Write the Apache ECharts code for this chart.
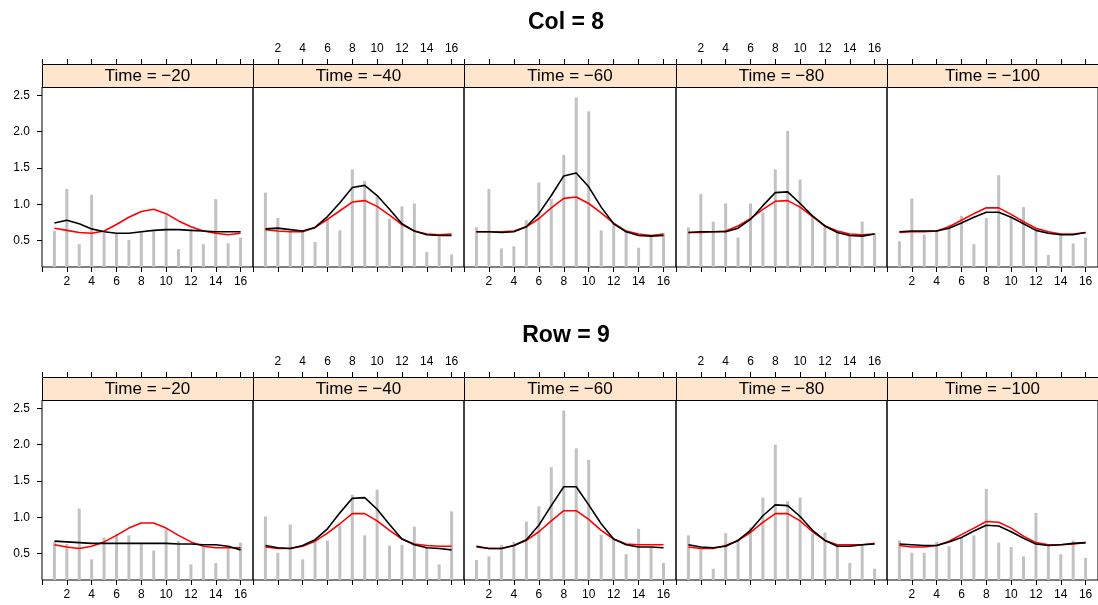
<!DOCTYPE html>
<html>
<head>
<meta charset="utf-8">
<script src="https://cdn.jsdelivr.net/npm/echarts@6/dist/echarts.min.js"></script>
<style>html,body{margin:0;padding:0;background:#fff;}#c{width:1098px;height:605px;}</style>
</head>
<body>
<div id="c"></div>
<script>
// ---- data ----
const positions = [1,2,3,4,5,6,7,8,9,10,11,12,13,14,15,16];
const xTickLabels = [2,4,6,8,10,12,14,16];
const xTickMarks = [0,2,4,6,8,10,12,14,16];
const yTickLabels = [0.5,1.0,1.5,2.0,2.5];
const timeLabels = ['Time = \u221220','Time = \u221240','Time = \u221260','Time = \u221280','Time = \u2212100'];
const groupTitles = ['Col = 8','Row = 9'];

const col8Bars = [
  [0.63,1.21,0.45,1.13,0.60,0.60,0.51,0.62,0.63,0.86,0.38,0.65,0.45,1.07,0.46,0.54],
  [1.16,0.81,0.62,0.62,0.48,0.80,0.64,1.48,1.32,1.10,0.80,0.97,1.01,0.34,0.55,0.31],
  [0.68,1.21,0.39,0.42,0.78,1.30,1.07,1.68,2.47,2.28,0.64,0.74,0.63,0.40,0.56,0.60],
  [0.68,1.14,0.76,1.01,0.54,1.01,0.89,1.48,2.01,1.34,0.83,0.69,0.62,0.57,0.76,0.60],
  [0.49,1.08,0.58,0.63,0.72,0.84,0.45,0.81,1.40,0.83,0.96,0.67,0.30,0.57,0.46,0.54]
];
const col8Red = [
  [0.67,0.64,0.61,0.60,0.63,0.72,0.82,0.90,0.93,0.87,0.77,0.69,0.63,0.60,0.58,0.60],
  [0.65,0.63,0.62,0.62,0.68,0.79,0.91,1.03,1.05,0.97,0.85,0.72,0.63,0.59,0.58,0.59],
  [0.62,0.62,0.62,0.63,0.69,0.80,0.95,1.08,1.10,1.01,0.88,0.74,0.63,0.59,0.57,0.59],
  [0.61,0.61,0.62,0.63,0.70,0.80,0.93,1.04,1.05,0.96,0.83,0.70,0.63,0.59,0.58,0.59],
  [0.61,0.62,0.62,0.63,0.69,0.78,0.87,0.95,0.95,0.86,0.76,0.67,0.62,0.59,0.59,0.61]
];
const col8Black = [
  [0.74,0.78,0.73,0.66,0.62,0.60,0.60,0.62,0.64,0.65,0.65,0.64,0.63,0.62,0.62,0.62],
  [0.66,0.67,0.65,0.63,0.68,0.83,1.02,1.23,1.26,1.12,0.93,0.73,0.63,0.58,0.57,0.57],
  [0.62,0.62,0.61,0.62,0.69,0.87,1.12,1.39,1.43,1.24,0.96,0.73,0.62,0.57,0.56,0.57],
  [0.61,0.62,0.62,0.62,0.67,0.79,0.98,1.16,1.17,1.01,0.84,0.70,0.61,0.57,0.56,0.59],
  [0.62,0.63,0.63,0.63,0.67,0.74,0.82,0.89,0.89,0.82,0.73,0.64,0.60,0.58,0.58,0.61]
];
const row9Bars = [
  [0.66,0.63,1.12,0.42,0.72,0.77,0.75,0.63,0.54,0.84,0.67,0.35,0.59,0.37,0.57,0.65],
  [1.01,0.51,0.90,0.42,0.68,0.68,0.88,1.31,0.75,1.38,0.61,0.62,0.87,0.59,0.35,1.08],
  [0.41,0.46,0.62,0.66,0.94,1.15,1.69,2.47,1.95,1.79,0.76,0.70,0.49,0.84,0.59,0.37],
  [0.75,0.56,0.29,0.78,0.70,0.86,1.27,2.00,1.22,1.27,0.77,0.79,0.61,0.37,0.63,0.29],
  [0.68,0.51,0.51,0.66,0.60,0.72,0.75,1.39,0.65,0.59,0.46,1.06,0.61,0.49,0.68,0.44]
];
const row9Red = [
  [0.62,0.59,0.57,0.60,0.66,0.75,0.85,0.92,0.92,0.85,0.75,0.66,0.60,0.58,0.58,0.58],
  [0.59,0.57,0.57,0.60,0.67,0.78,0.91,1.05,1.05,0.95,0.82,0.70,0.63,0.61,0.60,0.60],
  [0.59,0.57,0.57,0.61,0.68,0.80,0.95,1.09,1.09,0.97,0.82,0.70,0.63,0.62,0.62,0.62],
  [0.59,0.57,0.57,0.61,0.68,0.79,0.93,1.05,1.05,0.95,0.80,0.68,0.62,0.62,0.62,0.64],
  [0.61,0.59,0.59,0.61,0.67,0.76,0.85,0.94,0.93,0.85,0.74,0.65,0.62,0.62,0.63,0.65]
];
const row9Black = [
  [0.67,0.66,0.65,0.64,0.64,0.64,0.64,0.64,0.64,0.64,0.63,0.63,0.62,0.62,0.60,0.55],
  [0.61,0.58,0.57,0.61,0.69,0.84,1.06,1.26,1.27,1.11,0.90,0.70,0.62,0.58,0.57,0.55],
  [0.60,0.57,0.57,0.61,0.69,0.89,1.16,1.42,1.42,1.17,0.91,0.70,0.62,0.59,0.59,0.58],
  [0.62,0.59,0.58,0.60,0.68,0.82,1.02,1.17,1.16,1.01,0.82,0.68,0.60,0.60,0.62,0.63],
  [0.63,0.62,0.61,0.61,0.66,0.72,0.81,0.89,0.88,0.80,0.71,0.63,0.61,0.62,0.64,0.65]
];

const groups = [
  {title: groupTitles[0], bars: col8Bars, red: col8Red, black: col8Black},
  {title: groupTitles[1], bars: row9Bars, red: row9Red, black: row9Black}
];

// ---- layout ----
const panelEdges = [42, 253, 464, 676, 887, 1098];
const plotTop = [87, 400];
const plotH = 180;
const stripH = 23;
const titleY = [18, 331];
const FONT = '"Liberation Sans", Arial, Helvetica, sans-serif';

const grid = [], xAxis = [], yAxis = [], series = [], graphic = [], title = [];
let gi = 0;
groups.forEach((g, r) => {
  title.push({
    text: g.title, left: 561, top: titleY[r], textAlign: 'center', textVerticalAlign: 'middle',
    textStyle: {fontFamily: FONT, fontSize: 23, fontWeight: 'bold', color: '#000'}
  });
  for (let p = 0; p < 5; p++) {
    const left = panelEdges[p];
    const w = panelEdges[p + 1] - panelEdges[p];
    grid.push({left: left, top: plotTop[r], width: w, height: plotH,
      show: true, borderColor: '#000', borderWidth: 1, backgroundColor: 'transparent'});
    const labelBottom = (p % 2 === 0);
    xAxis.push({
      type: 'value', gridIndex: gi, min: 0, max: 17, position: 'bottom',
      axisLine: {show: false}, splitLine: {show: false},
      axisTick: {show: true, length: 5, inside: false, customValues: xTickMarks, lineStyle: {color: '#000', width: 1}},
      axisLabel: {show: labelBottom, customValues: xTickLabels, margin: 9, fontFamily: FONT, fontSize: 12, color: '#000'}
    });
    xAxis.push({
      type: 'value', gridIndex: gi, min: 0, max: 17, position: 'top', offset: stripH,
      axisLine: {show: false}, splitLine: {show: false},
      axisTick: {show: true, length: 5, inside: false, customValues: xTickMarks, lineStyle: {color: '#000', width: 1}},
      axisLabel: {show: !labelBottom, customValues: xTickLabels, margin: 9, fontFamily: FONT, fontSize: 12, color: '#000'}
    });
    yAxis.push({
      type: 'value', gridIndex: gi, min: 0.135, max: 2.615, position: 'left',
      axisLine: {show: false}, splitLine: {show: false},
      axisTick: {show: p === 0, length: 5, inside: false, customValues: yTickLabels, lineStyle: {color: '#000', width: 1}},
      axisLabel: {show: p === 0, customValues: yTickLabels, margin: 12, fontFamily: FONT, fontSize: 12, color: '#000',
        formatter: v => Number(v).toFixed(1)}
    });
    const xb = 2 * gi;
    series.push({
      type: 'bar', xAxisIndex: xb, yAxisIndex: gi, barWidth: 3, clip: true,
      itemStyle: {color: '#C2C2C2'}, silent: true,
      data: positions.map((x, i) => [x, g.bars[p][i]])
    });
    series.push({
      type: 'line', xAxisIndex: xb, yAxisIndex: gi, showSymbol: false, symbol: 'none',
      lineStyle: {color: '#FF0000', width: 1.6}, silent: true,
      data: positions.map((x, i) => [x, g.red[p][i]])
    });
    series.push({
      type: 'line', xAxisIndex: xb, yAxisIndex: gi, showSymbol: false, symbol: 'none',
      lineStyle: {color: '#000000', width: 1.6}, silent: true,
      data: positions.map((x, i) => [x, g.black[p][i]])
    });
    graphic.push({
      type: 'rect', shape: {x: left + 0.5, y: plotTop[r] - stripH + 0.5, width: w, height: stripH},
      style: {fill: '#FFE5CC', stroke: '#000', lineWidth: 1}, z: 10
    });
    graphic.push({
      type: 'text', x: left + w / 2, y: plotTop[r] - stripH / 2 + 1,
      style: {text: timeLabels[p], fill: '#000', font: '17px ' + FONT, textAlign: 'center', textVerticalAlign: 'middle'},
      z: 11
    });
    gi++;
  }
});

const chart = echarts.init(document.getElementById('c'), null, {renderer: 'canvas'});
chart.setOption({
  animation: false,
  backgroundColor: '#fff',
  title, grid, xAxis, yAxis, series, graphic
});
</script>
</body>
</html>
